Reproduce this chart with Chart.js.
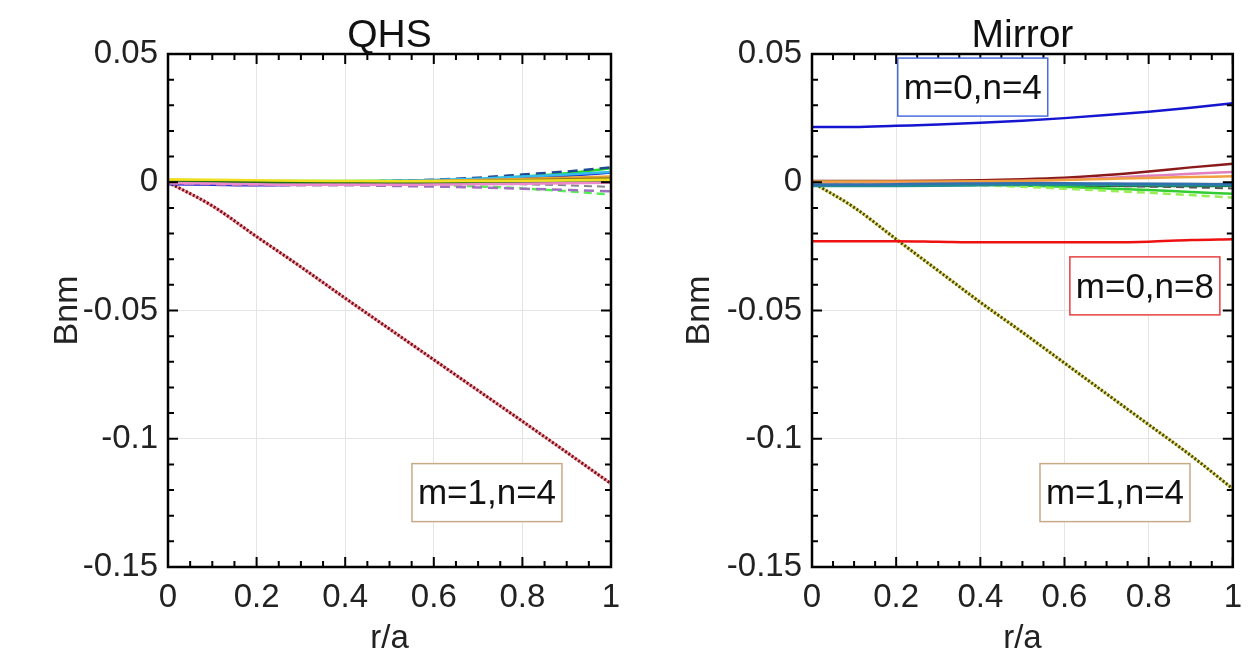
<!DOCTYPE html>
<html>
<head>
<meta charset="utf-8">
<script src="https://cdn.jsdelivr.net/npm/chart.js@4.4.1/dist/chart.umd.min.js"></script>
<style>
  body { margin: 0; background: #fff; }
  .panel { position: absolute; top: 0; }
</style>
</head>
<body>
<div class="panel" style="left:0"><canvas id="qhs" width="640" height="655"></canvas></div>
<div class="panel" style="left:640px"><canvas id="mirror" width="616" height="655"></canvas></div>
<script>
// r/a sample points shared by every curve
const r = [0, 0.1, 0.2, 0.3, 0.4, 0.5, 0.6, 0.7, 0.8, 0.9, 1];
const xTicks = [0, 0.2, 0.4, 0.6, 0.8, 1];
const xTickLabels = ['0', '0.2', '0.4', '0.6', '0.8', '1'];
const yTicks = [0.05, 0, -0.05, -0.1, -0.15];
const yTickLabels = ['0.05', '0', '-0.05', '-0.1', '-0.15'];

// QHS panel
const qhs_m1n4 = [0, -0.0092, -0.0212, -0.033, -0.0452, -0.0572, -0.0692, -0.0812, -0.0932, -0.1053, -0.1175];
const qhs_green = [0.0005, 0.0005, 0.0005, 0.0005, 0.0005, 0.0006, 0.0008, 0.0012, 0.0022, 0.0035, 0.0055];
const qhs_navy = [0, 0, 0, 0, 0.0002, 0.0005, 0.001, 0.0018, 0.003, 0.0042, 0.0058];
const qhs_blue = [-0.0008, -0.001, -0.0012, -0.001, -0.0006, -0.0002, 0.0002, 0.0008, 0.0015, 0.0025, 0.0038];
const qhs_cyan = [0, 0, 0, 0.0001, 0.0002, 0.0005, 0.0009, 0.0014, 0.0022, 0.003, 0.004];
const qhs_orange = [0.0003, 0.0003, 0.0003, 0.0003, 0.0003, 0.0004, 0.0006, 0.0009, 0.0013, 0.0018, 0.0022];
const qhs_olive = [0, 0, 0, 0, -0.0001, 0, 0.0002, 0.0005, 0.0008, 0.0012, 0.0015];
const qhs_yellow = [0.0012, 0.001, 0.0008, 0.0006, 0.0005, 0.0004, 0.0004, 0.0005, 0.0006, 0.0008, 0.001];
const qhs_purple = [-0.0005, -0.0008, -0.0012, -0.0012, -0.0012, -0.0014, -0.0017, -0.002, -0.0025, -0.003, -0.0035];
const qhs_lime = [0, 0, 0, -0.0001, -0.0003, -0.0006, -0.001, -0.0016, -0.0024, -0.0035, -0.0048];
const qhs_dkgreen = [0, 0, 0, 0, 0, -0.0001, -0.0002, -0.0003, -0.0002, -0.0001, 0];
const qhs_pink = [-0.0003, -0.0005, -0.0008, -0.001, -0.001, -0.001, -0.0009, -0.0008, -0.0006, -0.0004, -0.0002];
const qhs_gray = [0, 0, 0, 0, 0, 0, -0.0002, -0.0005, -0.0008, -0.0012, -0.0018];

// Mirror panel
const mir_m0n4 = [0.0215, 0.0215, 0.022, 0.0225, 0.0232, 0.024, 0.025, 0.0262, 0.0275, 0.029, 0.0308];
const mir_m0n8 = [-0.023, -0.023, -0.023, -0.0232, -0.0234, -0.0234, -0.0234, -0.0234, -0.0232, -0.0225, -0.0222];
const mir_m1n4 = [0, -0.0098, -0.0222, -0.0345, -0.0468, -0.0585, -0.0705, -0.0825, -0.0945, -0.1065, -0.1195];
const mir_maroon = [0.0005, 0.0005, 0.0005, 0.0006, 0.0008, 0.0012, 0.0018, 0.0028, 0.0042, 0.0058, 0.0072];
const mir_pink = [0, 0, 0, 0, 0.0002, 0.0005, 0.001, 0.0017, 0.0025, 0.0033, 0.004];
const mir_orange = [0.0003, 0.0003, 0.0003, 0.0003, 0.0004, 0.0006, 0.0009, 0.0013, 0.0017, 0.002, 0.0023];
const mir_dkgreen = [0, 0, -0.0002, -0.0004, -0.0006, -0.0008, -0.001, -0.0012, -0.0013, -0.0013, -0.0012];
const mir_teal = [-0.0015, -0.0015, -0.0015, -0.0014, -0.0012, -0.001, -0.001, -0.001, -0.0011, -0.0012, -0.0012];
const mir_green = [0, 0, -0.0002, -0.0005, -0.0009, -0.0013, -0.0018, -0.0024, -0.003, -0.0038, -0.0045];
const mir_lime = [0, 0, -0.0003, -0.0007, -0.0012, -0.0018, -0.0025, -0.0033, -0.0041, -0.005, -0.006];
const mir_gray = [0, 0, -0.0002, -0.0004, -0.0006, -0.0008, -0.0011, -0.0014, -0.0017, -0.002, -0.0024];
const mir_steel = [-0.001, -0.001, -0.0008, -0.0006, -0.0005, -0.0004, -0.0004, -0.0005, -0.0006, -0.0007, -0.0008];

const FONT = "'Liberation Sans', Arial, sans-serif";

function line(values, color, width, dash) {
  return {
    data: r.map((x, i) => ({ x: x, y: values[i] })),
    borderColor: color,
    borderWidth: width || 2.5,
    borderDash: dash || [],
    pointRadius: 0,
    cubicInterpolationMode: 'monotone',
  };
}

// black frame, inward ticks, title and the label boxes
const framePlugin = {
  id: 'frame',
  afterDraw(chart, args, opts) {
    const { ctx, chartArea: a, scales: { x, y } } = chart;
    ctx.save();
    ctx.strokeStyle = '#000';
    ctx.lineWidth = 2;
    for (let i = 0; i <= 20; i++) {
      const px = x.getPixelForValue(i * 0.05);
      const len = i % 4 === 0 ? 10 : 6;
      ctx.beginPath();
      ctx.moveTo(px, a.bottom); ctx.lineTo(px, a.bottom - len);
      ctx.moveTo(px, a.top); ctx.lineTo(px, a.top + len);
      ctx.stroke();
    }
    for (let i = 0; i <= 20; i++) {
      const py = y.getPixelForValue(-0.15 + i * 0.01);
      const len = i % 5 === 0 ? 10 : 6;
      ctx.beginPath();
      ctx.moveTo(a.left, py); ctx.lineTo(a.left + len, py);
      ctx.moveTo(a.right, py); ctx.lineTo(a.right - len, py);
      ctx.stroke();
    }
    ctx.lineWidth = 2.5;
    ctx.strokeRect(a.left, a.top, a.right - a.left, a.bottom - a.top);

    ctx.fillStyle = '#111';
    ctx.font = '39px ' + FONT;
    ctx.textAlign = 'center';
    ctx.textBaseline = 'alphabetic';
    ctx.fillText(opts.title, (a.left + a.right) / 2, a.top - 7);

    ctx.font = '35px ' + FONT;
    ctx.textBaseline = 'middle';
    opts.boxes.forEach(b => {
      const cx = x.getPixelForValue(b.x), cy = y.getPixelForValue(b.y);
      ctx.fillStyle = '#fff';
      ctx.fillRect(cx - 75, cy - 29, 150, 58);
      ctx.strokeStyle = b.color;
      ctx.lineWidth = 1.5;
      ctx.strokeRect(cx - 75, cy - 29, 150, 58);
      ctx.fillStyle = '#111';
      ctx.fillText(b.text, cx, cy + 2);
    });
    ctx.restore();
  }
};

function makeChart(id, datasets, title, boxes, axisWidth, titlePad, padRight) {
  return new Chart(document.getElementById(id), {
    type: 'line',
    data: { datasets: datasets },
    plugins: [framePlugin],
    options: {
      responsive: false,
      animation: false,
      devicePixelRatio: 1,
      layout: { padding: { top: 54, right: padRight, left: 0, bottom: 0 } },
      plugins: {
        legend: { display: false },
        title: { display: false },
        tooltip: { enabled: false },
        frame: { title: title, boxes: boxes },
      },
      scales: {
        x: {
          type: 'linear', min: 0, max: 1,
          afterBuildTicks: s => { s.ticks = xTicks.map(v => ({ value: v })); },
          afterFit: s => { s.height = 88; },
          ticks: {
            padding: 14, color: '#222',
            font: { family: FONT, size: 33, lineHeight: 1 },
            callback: (v, i) => xTickLabels[i],
          },
          grid: { color: '#e4e4e4', lineWidth: 1, drawTicks: false },
          border: { display: false },
          title: {
            display: true, text: 'r/a', color: '#222', padding: 0,
            font: { family: FONT, size: 33, lineHeight: 1 },
          },
        },
        y: {
          type: 'linear', min: -0.15, max: 0.05,
          afterBuildTicks: s => { s.ticks = yTicks.map(v => ({ value: v })); },
          afterFit: s => { s.width = axisWidth; },
          ticks: {
            padding: 10, color: '#222',
            font: { family: FONT, size: 33, lineHeight: 1 },
            callback: (v, i) => yTickLabels[i],
          },
          grid: { color: '#e4e4e4', lineWidth: 1, drawTicks: false },
          border: { display: false },
          title: {
            display: true, text: 'Bnm', color: '#222', padding: { top: titlePad, bottom: 0 },
            font: { family: FONT, size: 34, lineHeight: 1 },
          },
        },
      },
    },
  });
}

// Chart.js paints the first dataset last, so the dark dotted pass comes before its light underlay
makeChart('qhs', [
  line(qhs_yellow, '#f0e020'),
  line(qhs_pink, '#ee88cc'),
  line(qhs_dkgreen, '#207020'),
  line(qhs_olive, '#8c7a1a'),
  line(qhs_orange, '#e8a030'),
  line(qhs_gray, '#888888', 2, [8, 5]),
  line(qhs_purple, '#a070c0', 2.5, [10, 6]),
  line(qhs_lime, '#55ee55', 2.5, [8, 5]),
  line(qhs_cyan, '#33bbee'),
  line(qhs_blue, '#2233cc'),
  line(qhs_navy, '#1f4a93', 2.5, [10, 6]),
  line(qhs_green, '#22dd22'),
  line(qhs_m1n4, '#7a1010', 3, [2, 2]),
  line(qhs_m1n4, '#f0a0b0', 3),
], 'QHS', [
  { text: 'm=1,n=4', x: 0.72, y: -0.121, color: '#c8aa88' },
], 168, 51, 29);

makeChart('mirror', [
  line(mir_steel, '#3070b0'),
  line(mir_orange, '#f0a040'),
  line(mir_pink, '#e080c0'),
  line(mir_teal, '#209090'),
  line(mir_gray, '#555555', 2, [8, 5]),
  line(mir_lime, '#99ee55', 2.5, [8, 5]),
  line(mir_green, '#33cc33'),
  line(mir_dkgreen, '#0a7a2a', 3.5),
  line(mir_maroon, '#8b1a1a'),
  line(mir_m0n4, '#1515d0'),
  line(mir_m0n8, '#ee1111'),
  line(mir_m1n4, '#4a4a10', 3, [2, 2]),
  line(mir_m1n4, '#e8e070', 3),
], 'Mirror', [
  { text: 'm=0,n=4', x: 0.382, y: 0.0371, color: '#4a6ee0' },
  { text: 'm=0,n=8', x: 0.791, y: -0.0404, color: '#e84040' },
  { text: 'm=1,n=4', x: 0.72, y: -0.121, color: '#c8aa88' },
], 172, 43, 6);
</script>
</body>
</html>
